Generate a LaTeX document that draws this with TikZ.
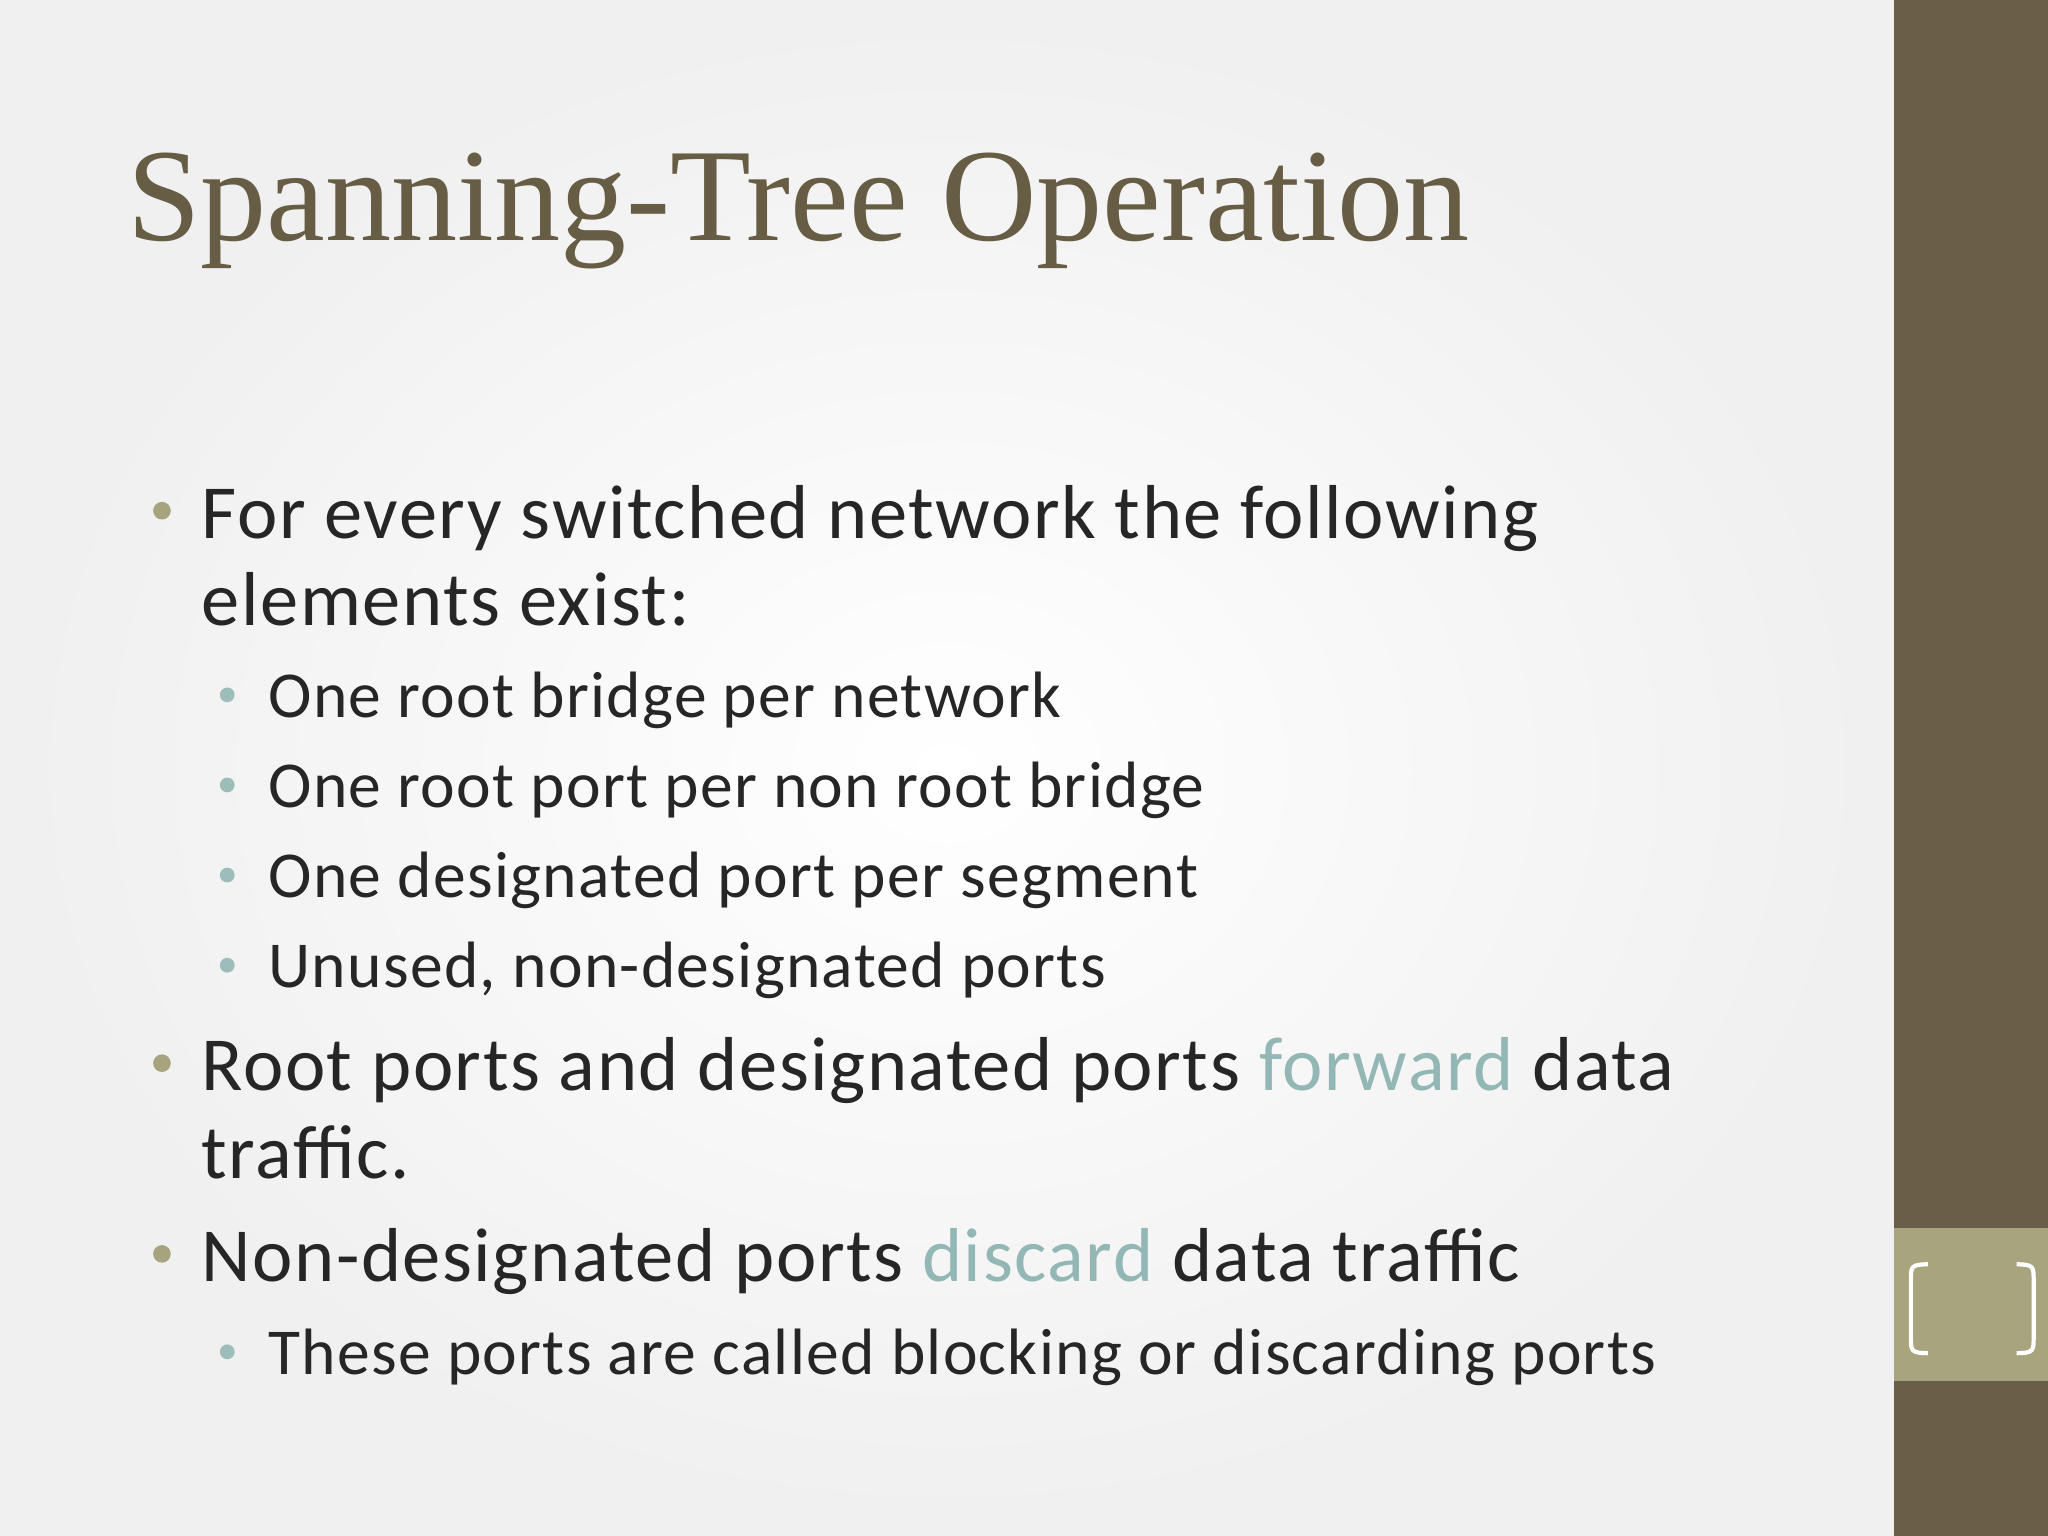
\documentclass[tikz,border=0pt]{standalone}
\usepackage{fontspec}
\setmainfont{Carlito}[LetterSpace=2]
\newfontfamily\titlefont{Liberation Serif}
\definecolor{titlec}{HTML}{675D44}
\definecolor{barc}{HTML}{6B5E48}
\definecolor{boxc}{HTML}{A8A47E}
\definecolor{bul}{HTML}{A8A37F}
\definecolor{subbul}{HTML}{9DBDBA}
\definecolor{hl}{HTML}{93B7B4}
\definecolor{txt}{HTML}{262626}
\tikzset{
 main/.style={anchor=base west,inner sep=0pt,font=\fontsize{21.7}{27}\selectfont,text=txt},
 sub/.style={anchor=base west,inner sep=0pt,font=\fontsize{18.6}{23}\selectfont,text=txt},
 mb/.style={circle,fill=bul,inner sep=0pt,minimum size=5pt},
 sb/.style={circle,fill=subbul,inner sep=0pt,minimum size=4.2pt}}
\begin{document}
\begin{tikzpicture}[x=0.3706pt,y=-0.3706pt]
\useasboundingbox (0,0) rectangle (1568,1176);
\shade[inner color=white,outer color=gray!12] (0,0) rectangle (1450,1176);
\fill[barc] (1450,0) rectangle (1568,1176);
\fill[boxc] (1450,940) rectangle (1568,1057);
\draw[white,line width=1.2pt] (1476,968) .. controls (1463,968) and (1463,970) .. (1463,980) -- (1463,1024) .. controls (1463,1034) and (1463,1036) .. (1476,1036);
\draw[white,line width=1.2pt] (1544,968) .. controls (1557,968) and (1557,970) .. (1557,980) -- (1557,1024) .. controls (1557,1034) and (1557,1036) .. (1544,1036);
\node[anchor=base west,inner sep=0pt,text=titlec,font=\titlefont\fontsize{37.5}{45}\selectfont] (title) at (97,184) {Spanning-Tree Operation};
\node[mb] (b1) at (124,391) {};
\node[main] (t1) at (154,412) {For every switched network the following};
\node[main] (t1b) at (154,479) {elements exist:};
\node[sb] (s1) at (174,532) {};
\node[sub] (u1) at (205,549) {One root bridge per network};
\node[sb] (s2) at (174,601) {};
\node[sub] (u2) at (205,618) {One root port per non root bridge};
\node[sb] (s3) at (174,670) {};
\node[sub] (u3) at (205,687) {One designated port per segment};
\node[sb] (s4) at (174,739) {};
\node[sub] (u4) at (205,756) {Unused, non-designated ports};
\node[mb] (b2) at (124,814) {};
\node[main] (t2) at (154,835) {Root ports and designated ports \textcolor{hl}{forward} data};
\node[main] (t2b) at (154,902) {traffic.};
\node[mb] (b3) at (124,960) {};
\node[main] (t3) at (154,981) {Non-designated ports \textcolor{hl}{discard} data traffic};
\node[sb] (s5) at (174,1035) {};
\node[sub] (u5) at (205,1052) {These ports are called blocking or discarding ports};
\end{tikzpicture}
\end{document}
